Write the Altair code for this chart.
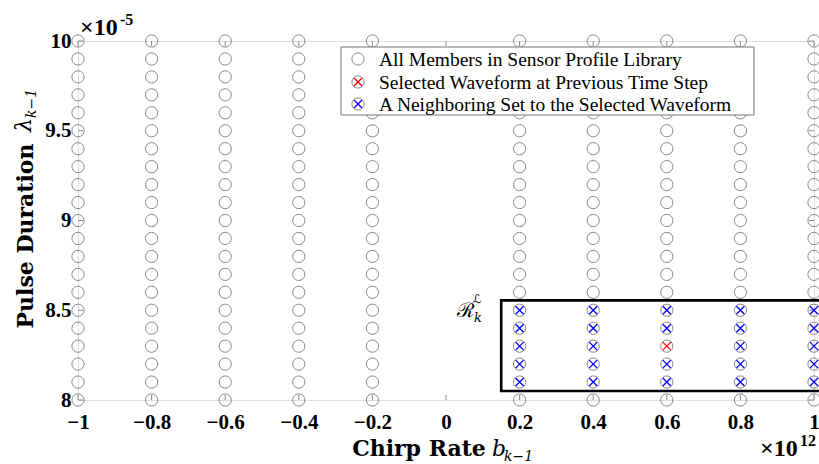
import itertools
import altair as alt
import pandas as pd

# ---------------- data ----------------
chirp_rates = [-1.0, -0.8, -0.6, -0.4, -0.2, 0.2, 0.4, 0.6, 0.8, 1.0]
pulse_durations = [8.0, 8.1, 8.2, 8.3, 8.4, 8.5, 8.6, 8.7, 8.8, 8.9, 9.0,
                   9.1, 9.2, 9.3, 9.4, 9.5, 9.6, 9.7, 9.8, 9.9, 10.0]
neighbor_rates = [0.2, 0.4, 0.6, 0.8, 1.0]
neighbor_durations = [8.1, 8.2, 8.3, 8.4, 8.5]
selected_rate = [0.6]
selected_duration = [8.3]
region_rate = [0.15, 1.08]
region_duration = [8.05, 8.555]
x_ticks = [-1.0, -0.8, -0.6, -0.4, -0.2, 0.0, 0.2, 0.4, 0.6, 0.8, 1.0]
y_ticks = [8.0, 8.5, 9.0, 9.5, 10.0]
legend_labels = ["All Members in Sensor Profile Library",
                 "Selected Waveform at Previous Time Step",
                 "A Neighboring Set to the Selected Waveform"]

all_df = pd.DataFrame(list(itertools.product(chirp_rates, pulse_durations)),
                      columns=["rate", "duration"])
nb = [(r, d) for r, d in itertools.product(neighbor_rates, neighbor_durations)
      if not (r == selected_rate[0] and d == selected_duration[0])]
nb_df = pd.DataFrame(nb, columns=["rate", "duration"])
sel_df = pd.DataFrame({"rate": selected_rate, "duration": selected_duration})
box_df = pd.DataFrame({"rate": [region_rate[0]], "rate2": [region_rate[1]],
                       "duration": [region_duration[0]], "duration2": [region_duration[1]]})
xt_df = pd.DataFrame({"rate": x_ticks})
yt_df = pd.DataFrame({"duration": y_ticks})

GREY = "#8a8a8a"
TIMES = "Liberation Serif, Times New Roman, Times, serif"
XPATH = "M-1,-1L1,1M1,-1L-1,1"
XS = alt.Scale(domain=[-1, 1], nice=False, zero=False)
YS = alt.Scale(domain=[8, 10], nice=False, zero=False)

W, H = 736, 359

x_axis = alt.Axis(values=x_ticks, format="~g", title=None, grid=False, domain=False,
                  ticks=False, tickSize=0, labelPadding=11, labelFont=TIMES,
                  labelFontWeight="bold", labelFontSize=21, labelColor="black",
                  labelFlush=False, labelOverlap=False)
y_axis = alt.Axis(values=y_ticks, format="~g", title=None, grid=False, domain=False,
                  ticks=False, tickSize=0, labelPadding=7, labelFont=TIMES,
                  labelFontWeight="bold", labelFontSize=21, labelColor="black",
                  labelFlush=False, labelOverlap=False)


def X():
    return alt.X("rate:Q", scale=XS, axis=x_axis)


def Y():
    return alt.Y("duration:Q", scale=YS, axis=y_axis)


circles = alt.Chart(all_df).mark_point(shape="circle", size=150, filled=False,
                                       color=GREY, strokeWidth=1, opacity=1).encode(x=X(), y=Y())

nb_pts = alt.Chart(nb_df).mark_point(shape=XPATH, size=64, filled=False,
                                     color="#0000ff", strokeWidth=1.3, opacity=1).encode(x=X(), y=Y())
sel_pts = alt.Chart(sel_df).mark_point(shape=XPATH, size=64, filled=False,
                                       color="#ff0000", strokeWidth=1.3, opacity=1).encode(x=X(), y=Y())

box = alt.Chart(box_df).mark_rect(fill=None, stroke="black", strokeWidth=2.6).encode(
    x=X(), x2="rate2:Q", y=Y(), y2="duration2:Q")

tick_kw = dict(color=GREY, strokeWidth=1)
xt_bottom = alt.Chart(xt_df).mark_rule(**tick_kw).encode(
    x=X(), y=alt.value(H), y2=alt.value(H - 5))
xt_top = alt.Chart(xt_df).mark_rule(**tick_kw).encode(
    x=X(), y=alt.value(0), y2=alt.value(5))
yt_left = alt.Chart(yt_df).mark_rule(**tick_kw).encode(
    y=Y(), x=alt.value(0), x2=alt.value(5))
yt_right = alt.Chart(yt_df).mark_rule(**tick_kw).encode(
    y=Y(), x=alt.value(W), x2=alt.value(W - 5))


def one(txt):
    return pd.DataFrame({"t": [txt]})


def text(txt, x, y, **kw):
    return alt.Chart(one(txt)).mark_text(**kw).encode(
        x=alt.value(x), y=alt.value(y), text="t:N")


def sym(x, y, shape, color, size, sw=1):
    return alt.Chart(one("s")).mark_point(shape=shape, size=size, filled=False,
                                          color=color, strokeWidth=sw, opacity=1).encode(
        x=alt.value(x), y=alt.value(y))


# legend box (covers the points below it)
leg_left, leg_right, leg_top, leg_bottom = 263, 676, 6, 74
legend_box = alt.Chart(one("b")).mark_rect(fill="white", stroke="#777777", strokeWidth=1).encode(
    x=alt.value(leg_left), x2=alt.value(leg_right), y=alt.value(leg_top), y2=alt.value(leg_bottom))

rows_y = [18, 41, 63]
legend_layers = [legend_box]
leg_colors = [None, "#ff0000", "#0000ff"]
for lab, ry, col in zip(legend_labels, rows_y, leg_colors):
    legend_layers.append(sym(280, ry, "circle", GREY, 150))
    if col:
        legend_layers.append(sym(280, ry, XPATH, col, 64, 1.3))
    legend_layers.append(text(lab, 301, ry + 1, align="left", baseline="middle",
                              font=TIMES, fontSize=19.5, color="black"))

serif_b = dict(font="DejaVu Serif", fontWeight="bold", fontSize=22, color="black")
titles = [
    # x title
    text("Chirp Rate", 341, 415, align="center", baseline="alphabetic", **serif_b),
    text("b", 414, 415, align="left", baseline="alphabetic", font="DejaVu Serif",
         fontStyle="italic", fontSize=22, color="black"),
    text("k\u22121", 426, 420, align="left", baseline="alphabetic", font="DejaVu Serif",
         fontStyle="italic", fontSize=14, color="black"),
    # y title
    text("Pulse Duration", -45, 195, align="center", baseline="alphabetic", angle=270, **serif_b),
    text("\u03bb", -47, 91, align="left", baseline="alphabetic", angle=270, font="DejaVu Serif",
         fontStyle="italic", fontSize=22, color="black"),
    text("k\u22121", -42, 77, align="left", baseline="alphabetic", angle=270,
         font="DejaVu Serif", fontStyle="italic", fontSize=14, color="black"),
    # exponent labels
    text("\u00d710", 2, -6, align="left", baseline="alphabetic", font=TIMES,
         fontWeight="bold", fontSize=24, color="black"),
    text("-5", 42, -16, align="left", baseline="alphabetic", font=TIMES,
         fontWeight="bold", fontSize=16, color="black"),
    text("\u00d710", 682, 415, align="left", baseline="alphabetic", font=TIMES,
         fontWeight="bold", fontSize=24, color="black"),
    text("12", 722, 405, align="left", baseline="alphabetic", font=TIMES,
         fontWeight="bold", fontSize=16, color="black"),
    # region label R_k^L
    text("\u211b", 379, 276, align="left", baseline="alphabetic", font="DejaVu Serif",
         fontSize=20, color="black"),
    text("\u2112", 395, 262, align="left", baseline="alphabetic", font="DejaVu Sans",
         fontSize=12, color="black"),
    text("k", 396, 281, align="left", baseline="alphabetic", font="DejaVu Serif",
         fontStyle="italic", fontSize=13, color="black"),
]

chart = alt.layer(
    circles, xt_bottom, xt_top, yt_left, yt_right, nb_pts, sel_pts, box,
    *legend_layers, *titles
).properties(
    width=W, height=H,
    padding={"left": 78, "top": 41, "right": 5, "bottom": 64},
    autosize=alt.AutoSizeParams(type="none"),
).configure_view(stroke=GREY, strokeWidth=1).configure(background="white")

chart.save("out.html", embed_options={"renderer": "svg", "actions": False})
